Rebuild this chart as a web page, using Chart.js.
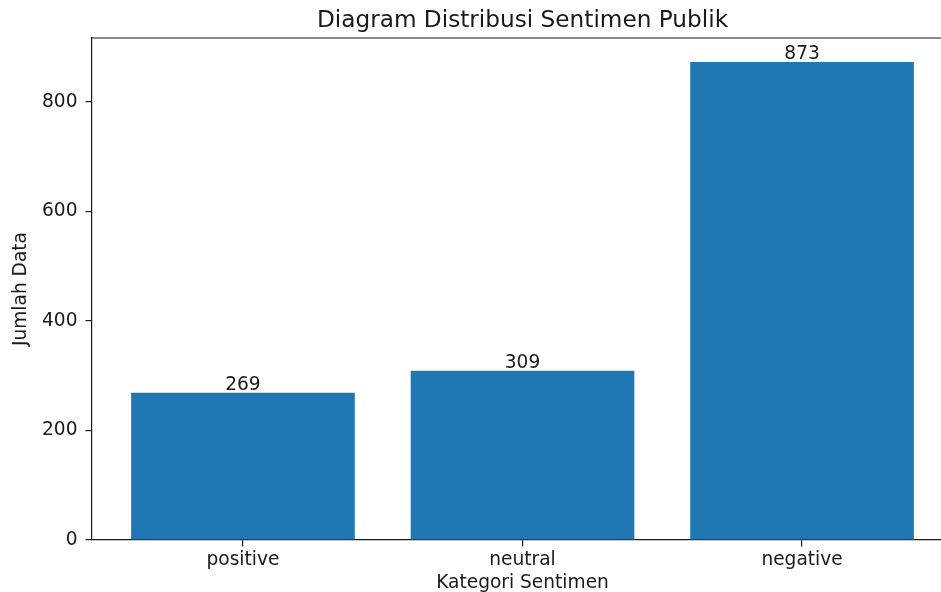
<!DOCTYPE html>
<html>
<head>
<meta charset="utf-8">
<script src="https://cdn.jsdelivr.net/npm/chart.js@4.4.1/dist/chart.umd.min.js"></script>
<style>
  html, body { margin: 0; padding: 0; background: #fff; overflow: hidden; }
  #wrap { width: 962px; height: 592px; }
</style>
</head>
<body>
<div id="wrap"><canvas id="myChart" width="962" height="592"></canvas></div>
<script>
const categories = ['positive', 'neutral', 'negative'];
const counts = [269, 309, 873];
const yTicks = [0, 200, 400, 600, 800];

const chartTitle = 'Diagram Distribusi Sentimen Publik';
const xTitle = 'Kategori Sentimen';
const yTitle = 'Jumlah Data';

const FONT = '"DejaVu Sans", sans-serif';
const ink = '#1a1a1a';

// titles, top spine and bar value labels
const decorations = {
  id: 'decorations',
  afterDraw(chart) {
    const { ctx, chartArea: a } = chart;
    const xs = chart.scales.x, ys = chart.scales.y;
    ctx.save();
    ctx.strokeStyle = ink;
    ctx.lineWidth = 1.2;
    ctx.beginPath();
    ctx.moveTo(a.left, a.top);
    ctx.lineTo(a.right, a.top);
    ctx.stroke();

    ctx.fillStyle = ink;
    ctx.textAlign = 'center';
    ctx.textBaseline = 'alphabetic';
    ctx.font = '23.2px ' + FONT;
    ctx.fillText(chartTitle, (a.left + a.right) / 2, 27);

    ctx.font = '18.6px ' + FONT;
    ctx.fillText(xTitle, (a.left + a.right) / 2, 588);

    counts.forEach((v, i) => {
      ctx.fillText(String(v), xs.getPixelForValue(i), ys.getPixelForValue(v) - 3);
    });

    ctx.translate(26, (a.top + a.bottom) / 2);
    ctx.rotate(-Math.PI / 2);
    ctx.fillText(yTitle, 0, 0);
    ctx.restore();
  }
};

const ctx = document.getElementById('myChart').getContext('2d');
const chart = new Chart(ctx, {
  type: 'bar',
  data: {
    datasets: [{
      data: counts.map((v, i) => ({ x: i, y: v })),
      backgroundColor: '#1f77b4',
      borderWidth: 0,
      categoryPercentage: 1.0,
      barPercentage: 0.8
    }]
  },
  options: {
    responsive: false,
    animation: false,
    layout: { padding: { top: 38, right: 9, left: 0, bottom: 0 } },
    plugins: { legend: { display: false }, tooltip: { enabled: false }, title: { display: false } },
    scales: {
      x: {
        type: 'linear',
        min: -0.54,
        max: 2.54,
        offset: false,
        afterBuildTicks: s => { s.ticks = categories.map((c, i) => ({ value: i })); },
        afterFit: s => { s.height = 52; },
        ticks: {
          callback: v => categories[v],
          color: ink,
          font: { family: FONT, size: 18.6 },
          padding: 3,
          maxRotation: 0,
          autoSkip: false
        },
        grid: { display: true, offset: false, drawOnChartArea: false, drawTicks: true, tickLength: 6.5, color: ink, lineWidth: 1.2 },
        border: { display: true, color: ink, width: 1.2 }
      },
      y: {
        min: 0,
        max: 873 * 1.05,
        afterBuildTicks: s => { s.ticks = yTicks.map(v => ({ value: v })); },
        afterFit: s => { s.width = 92; },
        ticks: {
          color: ink,
          font: { family: FONT, size: 18.6 },
          padding: 8
        },
        grid: { display: true, offset: false, drawOnChartArea: false, drawTicks: true, tickLength: 6.5, color: ink, lineWidth: 1.2 },
        border: { display: true, color: ink, width: 1.2 }
      }
    }
  },
  plugins: [decorations]
});
</script>
</body>
</html>
